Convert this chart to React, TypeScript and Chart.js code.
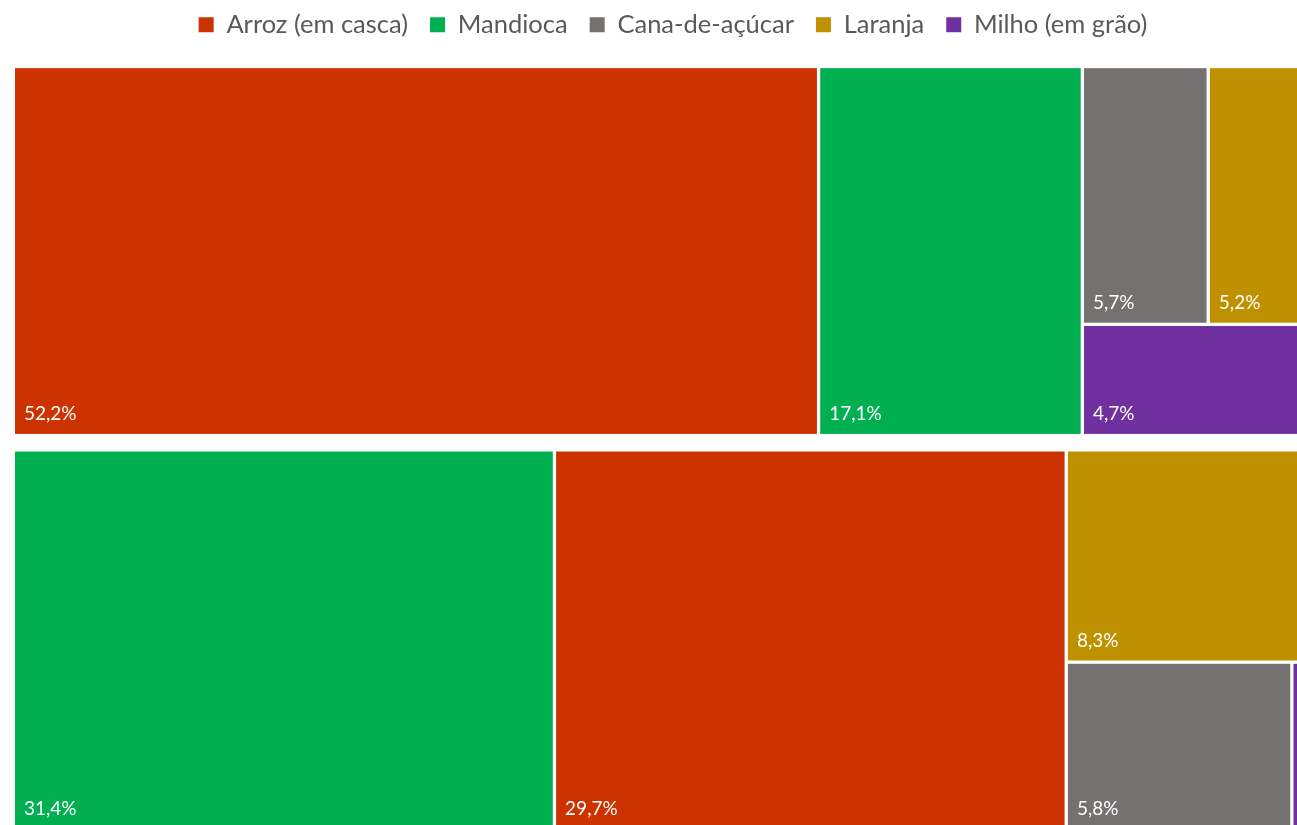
import React, { useEffect, useRef } from "react";
import { Chart, registerables } from "chart.js";

Chart.register(...registerables);

// ---- data (percent share of each crop inside each block) ----
const crops = ["Arroz (em casca)", "Mandioca", "Cana-de-açúcar", "Laranja", "Milho (em grão)"];
const cropColors = ["#CC3300", "#00B050", "#767171", "#BF9000", "#7030A0"];
const arroz = [52.2, 29.7];
const mandioca = [17.1, 31.4];
const cana = [5.7, 5.8];
const laranja = [5.2, 8.3];
const milho = [4.7, 0.8];
const seriesValues = [arroz, mandioca, cana, laranja, milho];
// relative size of each block (the two blocks are stacked)
const groupSize = [100, 115.3];

// ---- layout / style constants ----
const CANVAS_W = 1346;
const CANVAS_H = 860;
const OFFSET_TOP = -10.5;
const LEGEND_FONT = 25.5;
const LEGEND_PAD = 22;
const SPACER = 19;
const CELL_GAP = 3.3;
const GROUP_GAP = 14.3;
const LEGEND_CENTER = 673;
const TOL = 1.3;

type Item = { ci: number; v: number };
type Rect = { x: number; y: number; w: number; h: number };

function worst(areas: number[], side: number) {
  const sum = areas.reduce((a, b) => a + b, 0);
  const t = sum / side;
  let w = 0;
  for (const a of areas) {
    const len = a / t;
    w = Math.max(w, t / len, len / t);
  }
  return w;
}

function squarify(items: Item[], rect: Rect): { ci: number; v: number; r: Rect }[] {
  const total = items.reduce((a, b) => a + b.v, 0);
  const scale = (rect.w * rect.h) / total;
  let rem = items.map((it) => ({ ...it, a: it.v * scale }));
  let r = { ...rect };
  const out: { ci: number; v: number; r: Rect }[] = [];
  while (rem.length) {
    const side = Math.min(r.w, r.h);
    let n = 1;
    let best = worst([rem[0].a], side);
    while (n < rem.length) {
      const w = worst(rem.slice(0, n + 1).map((q) => q.a), side);
      if (w <= best * TOL) {
        best = w;
        n++;
      } else break;
    }
    const row = rem.slice(0, n);
    const rowArea = row.reduce((a, b) => a + b.a, 0);
    if (r.w >= r.h) {
      const t = rowArea / r.h;
      let yy = r.y;
      for (const q of row) {
        const hh = q.a / t;
        out.push({ ci: q.ci, v: q.v, r: { x: r.x, y: yy, w: t, h: hh } });
        yy += hh;
      }
      r = { x: r.x + t, y: r.y, w: r.w - t, h: r.h };
    } else {
      const t = rowArea / r.w;
      let xx = r.x;
      for (const q of row) {
        const ww = q.a / t;
        out.push({ ci: q.ci, v: q.v, r: { x: xx, y: r.y, w: ww, h: t } });
        xx += ww;
      }
      r = { x: r.x, y: r.y + t, w: r.w, h: r.h - t };
    }
    rem = rem.slice(n);
  }
  return out;
}

function groupWeight(gi: number) {
  const s = seriesValues.reduce((a, arr) => a + arr[gi], 0);
  return (s * groupSize[gi]) / 100;
}

const fmt = (v: number) => v.toFixed(1).replace(".", ",") + "%";

const treemapPlugin = {
  id: "treemapCells",
  afterLayout(chart: any) {
    const lg = chart.legend;
    if (lg) {
      const dx = LEGEND_CENTER - (lg.left + lg.right) / 2;
      lg.left += dx;
      lg.right += dx;
    }
  },
  afterDatasetsDraw(chart: any) {
    const { ctx, scales } = chart;
    const xs = scales.x;
    const ys = scales.y;
    const nG = groupSize.length;
    let acc = 0;
    ctx.save();
    for (let gi = 0; gi < nG; gi++) {
      const w = groupWeight(gi);
      const p0 = ys.getPixelForValue(acc);
      const p1 = ys.getPixelForValue(acc + w);
      acc += w;
      let top = Math.min(p0, p1);
      let bottom = Math.max(p0, p1);
      if (gi > 0) top += GROUP_GAP / 2;
      if (gi < nG - 1) bottom -= GROUP_GAP / 2;
      const left = xs.getPixelForValue(0);
      const right = xs.getPixelForValue(1);
      const items: Item[] = seriesValues
        .map((arr, ci) => ({ ci, v: arr[gi] }))
        .filter((it) => it.v > 0)
        .sort((a, b) => b.v - a.v);
      const cells = squarify(items, { x: left, y: top, w: right - left, h: bottom - top });
      for (const c of cells) {
        const g = CELL_GAP / 2;
        const rx = c.r.x + g;
        const ry = c.r.y + g;
        const rw = c.r.w - CELL_GAP;
        const rh = c.r.h - CELL_GAP;
        ctx.fillStyle = cropColors[c.ci];
        ctx.fillRect(rx, ry, rw, rh);
        ctx.save();
        ctx.beginPath();
        ctx.rect(rx, ry, rw, rh);
        ctx.clip();
        ctx.fillStyle = "#FFFFFF";
        ctx.font = "19px Lato";
        ctx.textAlign = "left";
        ctx.textBaseline = "alphabetic";
        ctx.fillText(fmt(c.v), rx + 9, ry + rh - 14);
        ctx.restore();
      }
    }
    ctx.restore();
  },
};

export default function App() {
  const ref = useRef<HTMLCanvasElement | null>(null);
  useEffect(() => {
    if (!ref.current) return;
    const totalW = groupSize.reduce((a, _g, gi) => a + groupWeight(gi), 0);
    const chart = new Chart(ref.current, {
      type: "bar",
      data: {
        datasets: crops.map((c, i) => ({
          label: c,
          data: [],
          backgroundColor: cropColors[i],
          borderColor: cropColors[i],
          borderWidth: 0,
        })),
      },
      options: {
        animation: false,
        responsive: true,
        maintainAspectRatio: false,
        layout: { padding: { left: 13.35, right: CANVAS_W - 1323, top: 0, bottom: 19 } },
        scales: {
          x: { type: "linear", display: false, offset: false, min: 0, max: 1 },
          y: { type: "linear", display: false, offset: false, min: 0, max: totalW, reverse: true },
        },
        plugins: {
          tooltip: { enabled: false },
          legend: {
            position: "top",
            labels: {
              boxWidth: 15,
              boxHeight: 15,
              padding: LEGEND_PAD,
              color: "#595959",
              font: { family: "Lato", size: LEGEND_FONT },
            },
          },
          title: {
            display: true,
            text: "",
            weight: 500,
            padding: 0,
            font: { size: SPACER, lineHeight: 1 },
          },
        },
      } as any,
      plugins: [treemapPlugin],
    });
    return () => chart.destroy();
  }, []);
  return (
    <div style={{ position: "fixed", left: 0, top: 0, right: 0, bottom: 0, overflow: "hidden", background: "#fff" }}>
      <div style={{ position: "absolute", left: 0, top: OFFSET_TOP, width: CANVAS_W, height: CANVAS_H }}>
        <canvas ref={ref} />
      </div>
    </div>
  );
}
